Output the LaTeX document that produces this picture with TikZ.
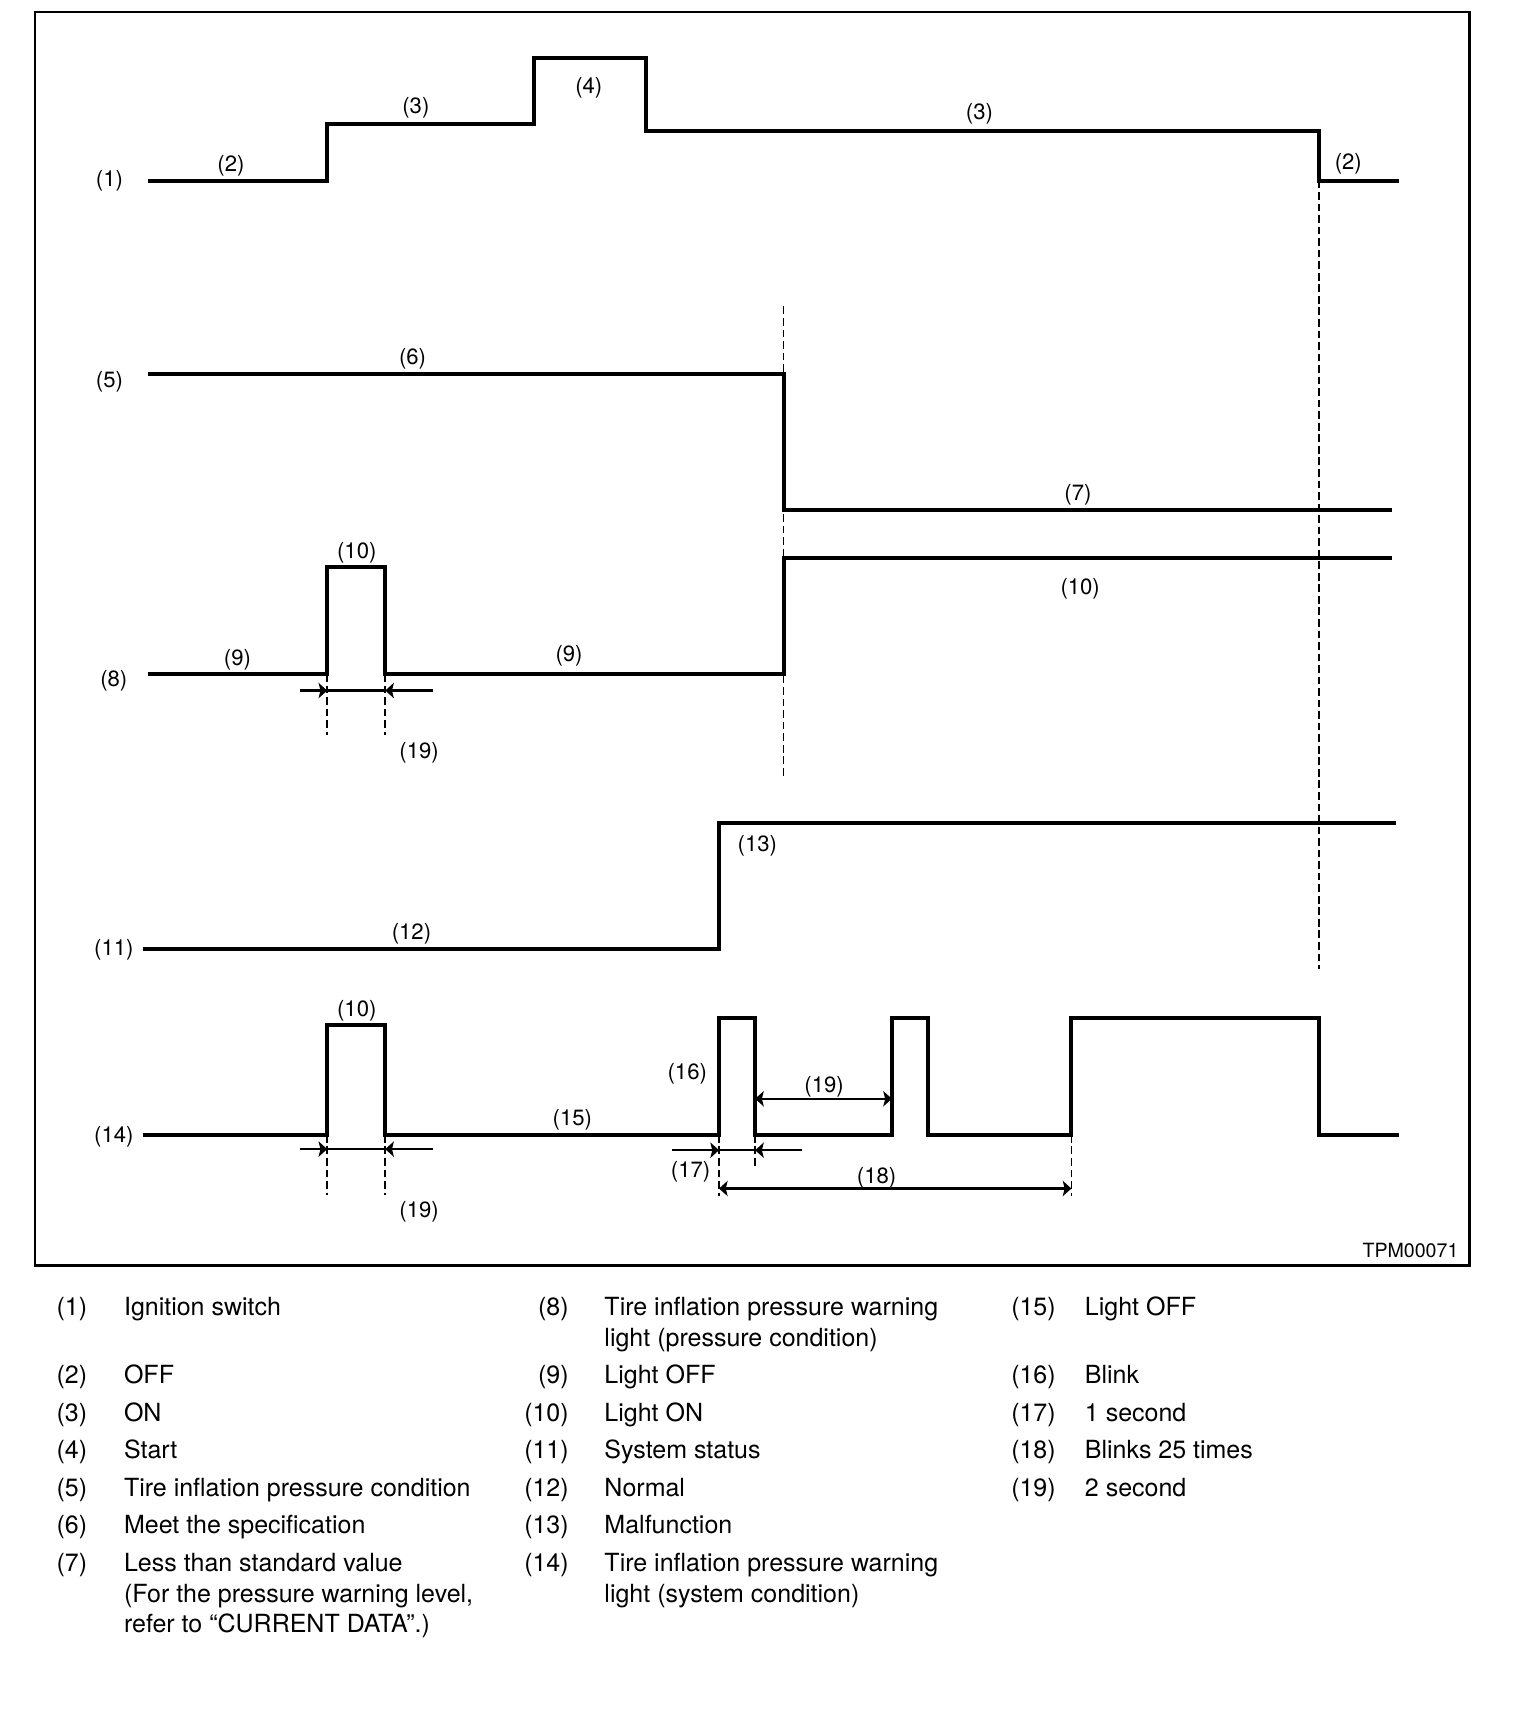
\documentclass[tikz,border=0pt]{standalone}
\usepackage{fontspec}
\setmainfont{TeX Gyre Heros}
\usetikzlibrary{arrows.meta}

\begin{document}
\begin{tikzpicture}[x=0.02cm,y=-0.02cm,
    sig/.style={line width=2.1pt},
    guide/.style={line width=0.9pt,dash pattern=on 4pt off 2pt},
    dim/.style={line width=1.2pt},
    dimtip/.style={-{Stealth[length=4.5pt,width=8pt,inset=1pt]}},
    tag/.style={font=\fontsize{11.5}{13}\selectfont,inner sep=0pt,yshift=-1.1pt},
    key/.style={font=\fontsize{13}{15}\selectfont,inner sep=0pt,anchor=base west},
    num/.style={font=\fontsize{13}{15}\selectfont,inner sep=0pt,anchor=base east}]
        \useasboundingbox (0,0) rectangle (1404,1568);
        \draw[line width=1.5pt] (32,11) rectangle (1343,1156);

        \draw[guide] (1205,165) -- (1205,885);
        \draw[guide] (716,280) -- (716,712);
        \draw[guide] (299,616) -- (299,672);
        \draw[guide] (352,616) -- (352,672);
        \draw[guide] (299,1037) -- (299,1092);
        \draw[guide] (352,1037) -- (352,1092);
        \draw[guide] (657,1037) -- (657,1093);
        \draw[guide] (690,1037) -- (690,1068);
        \draw[guide] (979,1037) -- (979,1093);

        \draw[sig] (135,165) -- (299,165) -- (299,113) -- (488,113) -- (488,53) -- (590,53) -- (590,120) -- (1205,120) -- (1205,165) -- (1278,165);
        \draw[sig] (135,342) -- (716,342) -- (716,466) -- (1272,466);
        \draw[sig] (135,616) -- (299,616) -- (299,518) -- (352,518) -- (352,616) -- (716,616) -- (716,510) -- (1272,510);
        \draw[sig] (131,867) -- (657,867) -- (657,752) -- (1276,752);
        \draw[sig] (131,1037) -- (299,1037) -- (299,937) -- (352,937) -- (352,1037) -- (657,1037) -- (657,930) -- (690,930) -- (690,1037)
            -- (815,1037) -- (815,930) -- (848,930) -- (848,1037) -- (979,1037) -- (979,930) -- (1205,930) -- (1205,1037) -- (1278,1037);

        \draw[dim,dimtip] (274,631) -- (299,631);
        \draw[dim] (299,631) -- (352,631);
        \draw[dim,dimtip] (396,631) -- (352,631);
        \draw[dim,dimtip] (274,1050) -- (299,1050);
        \draw[dim] (299,1050) -- (352,1050);
        \draw[dim,dimtip] (396,1050) -- (352,1050);
        \draw[dim,dimtip] (614,1051) -- (657,1051);
        \draw[dim] (657,1051) -- (690,1051);
        \draw[dim,dimtip] (733,1051) -- (690,1051);
        \draw[dim,{Stealth[length=4.5pt,width=8pt,inset=1pt]}-{Stealth[length=4.5pt,width=8pt,inset=1pt]}] (690,1004) -- (815,1004);
        \draw[dim,{Stealth[length=4.5pt,width=8pt,inset=1pt]}-{Stealth[length=4.5pt,width=8pt,inset=1pt]}] (657,1086) -- (979,1086);

        \node[tag] (s1) at (100,163) {(1)};
        \node[tag] (off1) at (211,150) {(2)};
        \node[tag] (on1) at (380,97) {(3)};
        \node[tag] (start) at (538,78) {(4)};
        \node[tag] (on2) at (895,102) {(3)};
        \node[tag] (off2) at (1232,148) {(2)};
        \node[tag] (s5) at (100,347) {(5)};
        \node[tag] (meet) at (377,326) {(6)};
        \node[tag] (less) at (985,450) {(7)};
        \node[tag] (s8) at (104,620) {(8)};
        \node[tag] (loff1) at (217,601) {(9)};
        \node[tag] (lon1) at (326,503) {(10)};
        \node[tag] (loff2) at (520,597) {(9)};
        \node[tag] (lon2) at (987,536) {(10)};
        \node[tag] (two1) at (383,686) {(19)};
        \node[tag] (s11) at (104,866) {(11)};
        \node[tag] (normal) at (376,851) {(12)};
        \node[tag] (fault) at (692,771) {(13)};
        \node[tag] (s14) at (104,1037) {(14)};
        \node[tag] (lon3) at (326,922) {(10)};
        \node[tag] (loff3) at (523,1021) {(15)};
        \node[tag] (blink) at (628,979) {(16)};
        \node[tag] (two2) at (753,991) {(19)};
        \node[tag] (one) at (631,1069) {(17)};
        \node[tag] (times) at (801,1074) {(18)};
        \node[tag] (two3) at (383,1105) {(19)};
        \node[tag,anchor=east,font=\fontsize{10.2}{12}\selectfont] (code) at (1333,1141) {TPM00071};

        \node[num] (n1) at (80,1202) {(1)};
        \node[key] (k1) at (113,1202) {Ignition switch};
        \node[num] (n2) at (80,1264) {(2)};
        \node[key] (k2) at (113,1264) {OFF};
        \node[num] (n3) at (80,1299) {(3)};
        \node[key] (k3) at (113,1299) {ON};
        \node[num] (n4) at (80,1333) {(4)};
        \node[key] (k4) at (113,1333) {Start};
        \node[num] (n5) at (80,1367) {(5)};
        \node[key] (k5) at (113,1367) {Tire inflation pressure condition};
        \node[num] (n6) at (80,1401) {(6)};
        \node[key] (k6) at (113,1401) {Meet the specification};
        \node[num] (n7) at (80,1436) {(7)};
        \node[key] (k7a) at (113,1436) {Less than standard value};
        \node[key] (k7b) at (113,1464) {(For the pressure warning level,};
        \node[key] (k7c) at (113,1492) {refer to “CURRENT DATA”.)};

        \node[num] (n8) at (520,1202) {(8)};
        \node[key] (k8a) at (552,1202) {Tire inflation pressure warning};
        \node[key] (k8b) at (552,1230) {light (pressure condition)};
        \node[num] (n9) at (520,1264) {(9)};
        \node[key] (k9) at (552,1264) {Light OFF};
        \node[num] (n10) at (520,1299) {(10)};
        \node[key] (k10) at (552,1299) {Light ON};
        \node[num] (n11) at (520,1333) {(11)};
        \node[key] (k11) at (552,1333) {System status};
        \node[num] (n12) at (520,1367) {(12)};
        \node[key] (k12) at (552,1367) {Normal};
        \node[num] (n13) at (520,1401) {(13)};
        \node[key] (k13) at (552,1401) {Malfunction};
        \node[num] (n14) at (520,1436) {(14)};
        \node[key] (k14a) at (552,1436) {Tire inflation pressure warning};
        \node[key] (k14b) at (552,1464) {light (system condition)};

        \node[num] (n15) at (965,1202) {(15)};
        \node[key] (k15) at (991,1202) {Light OFF};
        \node[num] (n16) at (965,1264) {(16)};
        \node[key] (k16) at (991,1264) {Blink};
        \node[num] (n17) at (965,1299) {(17)};
        \node[key] (k17) at (991,1299) {1 second};
        \node[num] (n18) at (965,1333) {(18)};
        \node[key] (k18) at (991,1333) {Blinks 25 times};
        \node[num] (n19) at (965,1367) {(19)};
        \node[key] (k19) at (991,1367) {2 second};
    \end{tikzpicture}
\end{document}
